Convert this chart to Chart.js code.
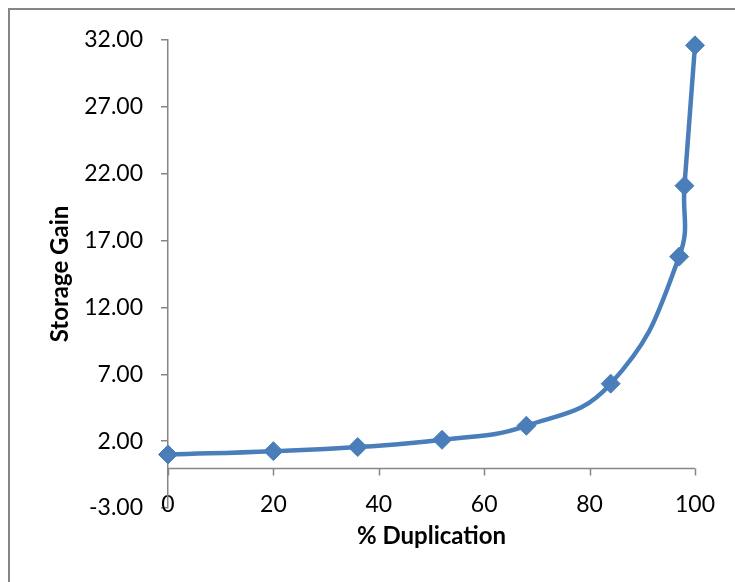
<!DOCTYPE html>
<html>
<head>
<meta charset="utf-8">
<script src="https://cdn.jsdelivr.net/npm/chart.js@4.4.0/dist/chart.umd.min.js"></script>
<style>
  html, body { margin: 0; padding: 0; background: #fff; }
  #wrap { position: relative; width: 735px; height: 582px; }
</style>
</head>
<body>
<div id="wrap"><canvas id="chart" width="735" height="582"></canvas></div>
<script>
// % duplication vs. storage gain
const duplication = [0, 20, 36, 52, 68, 84, 97, 98, 100];
const storageGain = [1.0, 1.25, 1.56, 2.1, 3.15, 6.3, 15.8, 21.1, 31.6];
const yTicks = [-3, 2, 7, 12, 17, 22, 27, 32];
const xTicks = [0, 20, 40, 60, 80, 100];

const AXIS_GREY = '#868686';
const LINE_BLUE = '#4A7EBB';
const FONT = 'Lato, "Open Sans", sans-serif';

// outer frame (top and left edges) plus the horizontal axis line drawn at y = 0
const frameAndAxis = {
  id: 'frameAndAxis',
  beforeDraw(chart) {
    const ctx = chart.ctx;
    ctx.save();
    ctx.strokeStyle = AXIS_GREY;
    ctx.lineWidth = 2;
    ctx.beginPath();
    ctx.moveTo(9, chart.height);
    ctx.lineTo(9, 9);
    ctx.lineTo(chart.width, 9);
    ctx.stroke();
    ctx.restore();
  },
  beforeDatasetsDraw(chart) {
    const {ctx, scales: {x, y}} = chart;
    const y0 = Math.round(y.getPixelForValue(0)) + 0.5;
    ctx.save();
    ctx.strokeStyle = AXIS_GREY;
    ctx.lineWidth = 1.5;
    ctx.beginPath();
    ctx.moveTo(x.left, y0);
    ctx.lineTo(x.right, y0);
    xTicks.forEach(v => {
      const px = Math.round(x.getPixelForValue(v)) + 0.5;
      ctx.moveTo(px, y0);
      ctx.lineTo(px, y0 + 7);
    });
    ctx.stroke();
    ctx.restore();
  }
};

new Chart(document.getElementById('chart'), {
  type: 'scatter',
  data: {
    datasets: [{
      label: 'Storage Gain',
      data: duplication.map((d, i) => ({x: d, y: storageGain[i]})),
      showLine: true,
      clip: false,
      borderColor: LINE_BLUE,
      borderWidth: 4.5,
      tension: 0.45,
      pointStyle: 'rectRot',
      pointRadius: 9.5,
      pointBackgroundColor: LINE_BLUE,
      pointBorderColor: LINE_BLUE,
      pointBorderWidth: 1
    }]
  },
  options: {
    responsive: false,
    animation: false,
    layout: { padding: { left: 0, top: 40, right: 40, bottom: 0 } },
    plugins: {
      legend: { display: false },
      tooltip: { enabled: false }
    },
    scales: {
      x: {
        type: 'linear',
        min: 0,
        max: 100,
        afterBuildTicks: s => { s.ticks = xTicks.map(v => ({value: v})); },
        afterFit: s => { s.height = 74; },
        grid: { display: false, drawTicks: false },
        border: { display: false },
        // mirrored so the labels can sit level with the bottom of the value axis
        ticks: {
          mirror: true,
          padding: -10,
          color: '#000',
          font: { family: FONT, size: 23 }
        },
        title: {
          display: true,
          text: '% Duplication',
          color: '#000',
          font: { family: FONT, size: 24, weight: 'bold' },
          padding: { top: 0, bottom: 31 }
        }
      },
      y: {
        min: -3,
        max: 32,
        afterBuildTicks: s => { s.ticks = yTicks.map(v => ({value: v})); },
        afterFit: s => { s.width = 168; },
        grid: {
          drawOnChartArea: false,
          drawTicks: true,
          tickLength: 7,
          color: AXIS_GREY,
          lineWidth: 1.5
        },
        border: { display: true, color: AXIS_GREY, width: 1.5 },
        ticks: {
          padding: 18,
          color: '#000',
          font: { family: FONT, size: 23 },
          callback: v => v.toFixed(2)
        },
        title: {
          display: true,
          text: 'Storage Gain',
          color: '#000',
          font: { family: FONT, size: 24, weight: 'bold' },
          padding: { top: 46, bottom: 0 }
        }
      }
    }
  },
  plugins: [frameAndAxis]
});
</script>
</body>
</html>
